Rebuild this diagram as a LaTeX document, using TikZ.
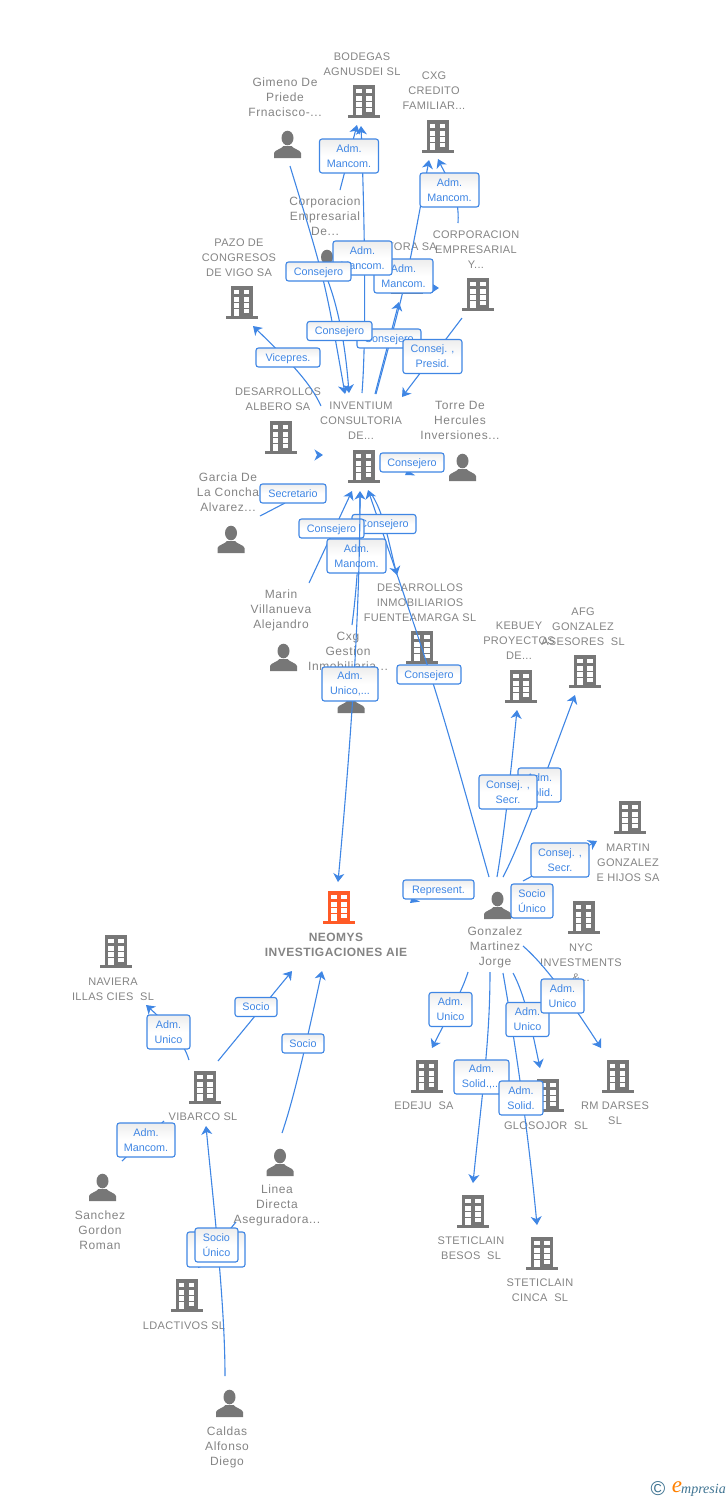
\documentclass[tikz,border=0pt]{standalone}
\usepackage{fontspec}
\usepackage{xcolor}
\usetikzlibrary{arrows.meta}
\setmainfont{Liberation Sans}
\newfontfamily\companyfont[LetterSpace=3]{Liberation Sans}
\newfontfamily\personfont[LetterSpace=5]{Liberation Sans}
\newfontfamily\mainfirmfont[LetterSpace=4]{Liberation Sans Bold}
\newfontfamily\logofont{Liberation Serif}
\definecolor{icongray}{HTML}{777777}
\definecolor{textgray}{HTML}{848484}
\definecolor{linkblue}{HTML}{3F86E4}
\definecolor{mainorange}{HTML}{FF5A26}
\definecolor{logoteal}{HTML}{3E7391}
\tikzset{
  company/.style={text=textgray,align=center,inner sep=0pt,font=\companyfont\fontsize{11}{15}\selectfont},
  persona/.style={text=textgray,align=center,inner sep=0pt,font=\personfont\fontsize{12}{15}\selectfont},
  mainfirm/.style={text=textgray,align=center,inner sep=0pt,font=\mainfirmfont\fontsize{12}{15}\selectfont},
  role/.style={draw=linkblue,line width=1.1pt,rounded corners=2.5pt,top color=black!7,bottom color=white,middle color=white,
    text=linkblue,align=center,inner sep=0pt,minimum height=34pt,font=\fontsize{10.8}{15}\selectfont},
  roleline/.style={role,minimum height=19pt,text height=8pt,text depth=1pt},
  link/.style={draw=linkblue,line width=1.1pt,-{Stealth[length=8.5pt,width=11pt,inset=2.5pt]}},
  stub/.style={draw=linkblue,line width=1.1pt},
  building/.pic={
    \fill[#1] (-11,-33) rectangle (11,-2);
    \fill[#1] (-16,-3) rectangle (16,0);
    \foreach \r in {29,21.7,15.7}{
      \fill[white] (-7.8,-\r) rectangle (-2.5,-\r+4.3);
      \fill[white] (2.2,-\r) rectangle (7.5,-\r+4.3);
    }
    \fill[white] (-7.8,-10) rectangle (-2.5,-3);
    \fill[white] (2.2,-10) rectangle (7.5,-6);
  },
  pics/building/.default=icongray,
  silhouette/.pic={
    \fill[icongray] (0,-20) ellipse (6 and 7.3);
    \fill[icongray] (-13.5,0) -- (-13.5,-5) .. controls (-13,-8) and (-6,-9) .. (-4,-12)
      -- (4,-12) .. controls (6,-9) and (13,-8) .. (13.5,-5) -- (13.5,0) -- cycle;
  },
}
\begin{document}
\begin{tikzpicture}[x=1pt,y=-1pt]
\useasboundingbox (0,0) rectangle (728,1500);

%draw the firms
\pic at (364,118) {building};
\pic at (437.5,153) {building};
\pic at (241.5,319) {building};
\pic at (478,311) {building};
\pic at (407,294) {building};
\pic at (280.5,454) {building};
\pic at (363.5,483) {building};
\pic at (422,664) {building};
\pic at (521,703) {building};
\pic at (585,688) {building};
\pic at (630,834) {building};
\pic at (583.5,934) {building};
\pic at (426.5,1093) {building};
\pic at (617.5,1093) {building};
\pic at (548,1112) {building};
\pic at (473,1228) {building};
\pic at (542,1270) {building};
\pic at (339,924) {building=mainorange};
\pic at (116,968) {building};
\pic at (205,1104) {building};
\pic at (186.5,1312) {building};

%draw the people
\pic at (287.5,158) {silhouette};
\pic at (327,277) {silhouette};
\pic at (462.5,481) {silhouette};
\pic at (231,553) {silhouette};
\pic at (283.5,671) {silhouette};
\pic at (351,713) {silhouette};
\pic at (497.5,919) {silhouette};
\pic at (102.5,1201) {silhouette};
\pic at (280,1176) {silhouette};
\pic at (229.5,1417) {silhouette};

%names
\node[company] (bodegas) at (362,64) {BODEGAS\\AGNUSDEI SL};
\node[persona] (gimeno) at (285,97) {Gimeno De\\Priede\\Frnacisco-...};
\node[company] (cxgcredito) at (434,90.5) {CXG\\CREDITO\\FAMILIAR...};
\node[persona] (corpde) at (325,216) {Corporacion\\Empresarial\\De...};
\node[company] (pazo) at (239,257.5) {PAZO DE\\CONGRESOS\\DE VIGO SA};
\node[company] (corpy) at (476,249.5) {CORPORACION\\EMPRESARIAL\\Y...};
\node[company,anchor=east] (tora) at (437,246.5) {TORA SA};
\node[company] (albero) at (278,399) {DESARROLLOS\\ALBERO SA};
\node[company] (inventium) at (361,420.5) {INVENTIUM\\CONSULTORIA\\DE...};
\node[persona] (torre) at (460,420) {Torre De\\Hercules\\Inversiones...};
\node[persona] (garcia) at (228,492) {Garcia De\\La Concha\\Alvarez...};
\node[persona] (marin) at (281,610) {Marin\\Villanueva\\Alejandro};
\node[persona] (cxggestion) at (348,651) {Cxg\\Gestion\\Inmobiliaria...};
\node[company] (fuenteamarga) at (420,602.5) {DESARROLLOS\\INMOBILIARIOS\\FUENTEAMARGA SL};
\node[company] (kebuey) at (519,640.5) {KEBUEY\\PROYECTOS\\DE...};
\node[company] (afg) at (583,626.5) {AFG\\GONZALEZ\\ASESORES\ \ SL};
\node[company] (martin) at (628,862.5) {MARTIN\\GONZALEZ\\E HIJOS SA};
\node[company] (nyc) at (581,962.5) {NYC\\INVESTMENTS\\\&...};
\node[persona] (gonzalez) at (495,947) {Gonzalez\\Martinez\\Jorge};
\node[mainfirm] (neomys) at (336,944.5) {NEOMYS\\INVESTIGACIONES AIE};
\node[company] (naviera) at (113,989) {NAVIERA\\ILLAS CIES\ \ SL};
\node[company] (vibarco) at (203,1116.5) {VIBARCO SL};
\node[company] (edeju) at (424,1105.5) {EDEJU\ \ SA};
\node[company] (rmdarses) at (615,1113) {RM DARSES\\SL};
\node[company] (glosojor) at (546,1125.5) {GLOSOJOR\ \ SL};
\node[company] (besos) at (471,1248) {STETICLAIN\\BESOS\ \ SL};
\node[company] (cinca) at (540,1290) {STETICLAIN\\CINCA\ \ SL};
\node[persona] (sanchez) at (100,1230) {Sanchez\\Gordon\\Roman};
\node[persona] (linea) at (277,1205) {Linea\\Directa\\Aseguradora...};
\node[company] (ldactivos) at (184,1325.5) {LDACTIVOS SL};
\node[persona] (caldas) at (227,1447) {Caldas\\Alfonso\\Diego};

%free ends of the connectors
\foreach \name/\x/\y in {gimenotail/290/166,invtopa/345/394,corpdetail/328/281,invtopb/349/393,
  corpdebod/340/190,bodtipa/357/125,invtailc/362/393,bodtipb/361/126,corpytail/458/223,cxgtipb/438/159,
  invtaild/376/394,cxgtipa/429/160,invtaile/375/394,toratip/399/302,corpyinv/462/318,invright/402/397,
  invleft/321/406,pazotip/253/326,garciatail/260/516,garciaend/285/503,marintail/309/583,invlowa/352/491,
  cxgtail/352/625,invlowb/360/491,invneo/360/492,neotipa/338/882,gonztaila/489/877,invlowc/368/490,
  invfuente/370/492,fuentetip/397/575,gonztailb/497/877,kebueytip/517/710,gonztailc/503/877,afgtip/575/695,
  gonztaild/523/881,martintip/597/841,gonztaile/523/946,rmtip/601/1048,gonztailf/468/972,edejutip/432/1048,
  gonztailg/490/972,besostip/473/1183,gonztailh/503/973,cincatip/537/1225,gonztaili/513/973,glosotip/540/1068,
  vibtaila/189/1060,navieratip/146/1005,vibtailb/218/1061,neotipb/292/971,lineatail/282/1133,neotipc/322/971,
  caldastail/225/1376,vibtip/206/1126,lineatailb/236/1222,ldtip/198/1268,sancheztail/122/1161,sanchezend/164/1121,
  hiddena/424/288,hiddenb/439/288,hiddenc/317/455,hiddend/323/455,torretail/425/463,torretip/405/475,
  reptail/425/890,reptip/410/903}
  {\coordinate (\name) at (\x,\y);}

%connectors
\draw[link] (gimenotail) .. controls (325,280) .. (invtopa);
\draw[link] (corpdetail) .. controls (337,305) and (345,340) .. (invtopb);
\draw[link] (corpdebod) -- (bodtipa);
\draw[link] (invtailc) .. controls (367,330) and (364,200) .. (bodtipb);
\draw[link] (corpytail) .. controls (460,195) and (447,178) .. (cxgtipb);
\draw[link] (invtaild) .. controls (407.5,277) .. (cxgtipa);
\draw[link] (invtaile) -- (toratip);
\draw[link] (corpyinv) -- (invright);
\draw[link] (invleft) .. controls (310,382) and (290,362) .. (pazotip);
\draw[stub] (garciatail) -- (garciaend);
\draw[link] (marintail) -- (invlowa);
\draw[link] (cxgtail) .. controls (358,580) and (360,530) .. (invlowb);
\draw[link] (invfuente) .. controls (384,512) and (388,540) .. (fuentetip);
\draw[link] (gonztaila) .. controls (434.5,683) .. (invlowc);
\draw[link] (gonztailb) .. controls (505,830) and (512,760) .. (kebueytip);
\draw[link] (gonztailc) .. controls (520,845) and (545,775) .. (afgtip);
\draw[link] (gonztaild) -- (martintip);
\draw[link] (gonztaile) .. controls (545,965) and (570,1000) .. (rmtip);
\draw[link] (gonztailf) .. controls (462,992) and (445,1022) .. (edejutip);
\draw[link] (gonztailg) .. controls (490,1040) and (482,1095) .. (besostip);
\draw[link] (gonztailh) .. controls (513,1030) and (527,1120) .. (cincatip);
\draw[link] (gonztaili) .. controls (525,995) and (532,1030) .. (glosotip);
\draw[link] (vibtaila) .. controls (183,1040) and (165,1022) .. (navieratip);
\draw[link] (vibtailb) -- (neotipb);
\draw[link] (lineatail) .. controls (295,1095) and (308,1035) .. (neotipc);
\draw[link] (caldastail) .. controls (225,1300) and (212,1190) .. (vibtip);
\draw[link] (lineatailb) -- (ldtip);
\draw[stub] (sancheztail) -- (sanchezend);
\draw[link] (hiddena) -- (hiddenb);
\draw[link] (hiddenc) -- (hiddend);
\draw[link] (torretail) -- (torretip);
\draw[link] (reptail) -- (reptip);

%role boxes
\node[role,minimum width=59pt] (admbodegas) at (349,156) {Adm.\\Mancom.};
\node[role,minimum width=59pt] (admcxg) at (449.5,190) {Adm.\\Mancom.};
\node[role,minimum width=59pt] (admcxgb) at (403.5,276) {Adm.\\Mancom.};
\node[role,minimum width=59pt] (admbodegasb) at (362.5,258) {Adm.\\Mancom.};
\node[roleline,minimum width=65pt] (consgimeno) at (318.5,271.5) {Consejero};
\node[roleline,minimum width=64pt] (constora) at (389,338.5) {Consejero};
\node[roleline,minimum width=65pt] (conscorp) at (339.5,331) {Consejero};
\node[role,minimum width=59pt] (conspresid) at (432.5,356.5) {Consej. ,\\Presid.};
\node[roleline,minimum width=64pt] (vicepres) at (288,357.5) {Vicepres.};
\node[roleline,minimum width=64pt] (constorre) at (412,462.5) {Consejero};
\node[roleline,minimum width=66pt] (secretario) at (293,493.5) {Secretario};
\node[roleline,minimum width=64pt] (consfuente) at (384,524) {Consejero};
\node[roleline,minimum width=65pt] (consmarin) at (331.5,528.5) {Consejero};
\node[role,minimum width=59pt] (admcxgg) at (356.5,556) {Adm.\\Mancom.};

%this one runs over the boxes above it
\draw[link] (invneo) .. controls (360,620) and (350,750) .. (neotipa);

\node[role,minimum width=56pt] (admneomys) at (350,684) {Adm.\\Unico,...};
\node[roleline,minimum width=64pt] (consgonz) at (429,674.5) {Consejero};
\node[role,minimum width=43pt] (solidafg) at (539.5,785) {Adm.\\Solid.};
\node[role,minimum width=58pt] (secrkebuey) at (508,792) {Consej. ,\\Secr.};
\node[role,minimum width=58pt] (secrmartin) at (560,860) {Consej. ,\\Secr.};
\node[roleline,minimum width=71pt] (represent) at (438.5,889.5) {Represent.};
\node[role,minimum width=42pt] (socionyc) at (532,901) {Socio\\Único};
\node[role,minimum width=43pt] (unicoedeju) at (450.5,1009.5) {Adm.\\Unico};
\node[role,minimum width=43pt] (unicogloso) at (527.5,1019.5) {Adm.\\Unico};
\node[role,minimum width=43pt] (unicorm) at (562.5,996) {Adm.\\Unico};
\node[role,minimum width=55pt] (solidbesos) at (481.5,1077) {Adm.\\Solid.,...};
\node[role,minimum width=44pt] (solidcinca) at (521,1098) {Adm.\\Solid.};
\node[roleline,minimum width=42pt] (socioneoa) at (256,1007) {Socio};
\node[roleline,minimum width=42pt] (socioneob) at (303,1043.5) {Socio};
\node[role,minimum width=43pt] (unicovib) at (168.5,1032) {Adm.\\Unico};
\node[role,minimum width=58pt] (admvibarco) at (146,1140) {Adm.\\Mancom.};
\node[role,minimum width=58pt,minimum height=35pt] (admld) at (216,1249.5) {};
\node[role,minimum width=43pt] (sociounico) at (216.5,1245) {Socio\\Único};

%logo
\node[text=logoteal,inner sep=0pt,font=\fontsize{20}{20}\selectfont] (copyr) at (658,1489) {©};
\node[text=orange,inner sep=0pt,font=\logofont\itshape\fontsize{23}{23}\selectfont] (logoe) at (677,1487) {e};
\node[text=logoteal,inner sep=0pt,anchor=base west,font=\logofont\itshape\fontsize{14}{15}\selectfont] (logotxt) at (681,1493) {mpresia};

\end{tikzpicture}
\end{document}
